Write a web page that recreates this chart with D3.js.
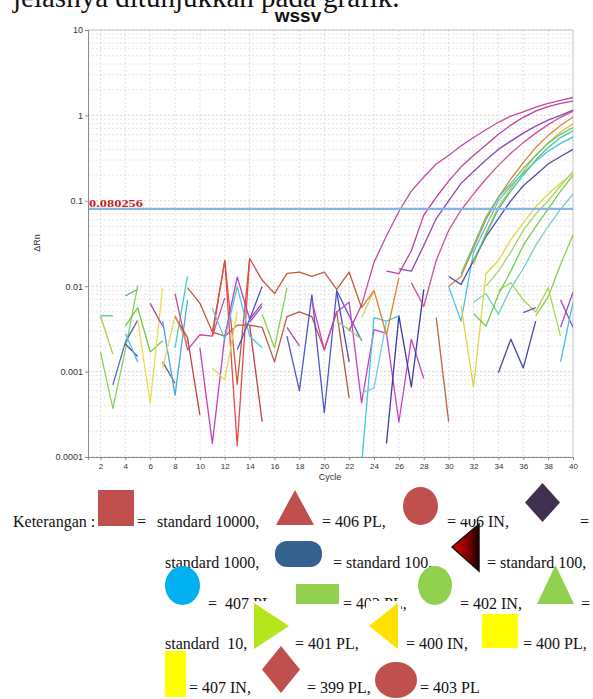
<!DOCTYPE html>
<html>
<head>
<meta charset="utf-8">
<script src="https://cdn.jsdelivr.net/npm/d3@7"></script>
<style>
  body { margin: 0; background: #fff; }
  svg { display: block; }
  .serif { font-family: "Liberation Serif", "Times New Roman", serif; white-space: pre; }
  .sans { font-family: "Liberation Sans", Arial, sans-serif; }
</style>
</head>
<body>
<svg id="chart" width="593" height="699"></svg>
<script>
// ---- data: [cycle, deltaRn] per run ----
const xTicks = [2, 4, 6, 8, 10, 12, 14, 16, 18, 20, 22, 24, 26, 28, 30, 32, 34, 36, 38, 40];
const yTicks = [0.0001, 0.001, 0.01, 0.1, 1, 10];
const yTickLabels = ["0.0001", "0.001", "0.01", "0.1", "1", "10"];
const threshold = 0.080256;

// amplification curves
const ampA = [[22,0.0030],[23,0.0060],[24,0.019],[25,0.039],[26,0.075],[27,0.13],[28,0.19],[29,0.27],[30,0.34],[31,0.44],[32,0.55],[33,0.68],[34,0.83],[35,0.98],[36,1.1],[37,1.25],[38,1.38],[39,1.5],[40,1.62]];
const ampB = [[25,0.015],[26,0.014],[27,0.026],[28,0.068],[29,0.11],[30,0.17],[31,0.25],[32,0.34],[33,0.45],[34,0.6],[35,0.77],[36,0.95],[37,1.12],[38,1.27],[39,1.38],[40,1.47]];
const ampC = [[26,0.016],[27,0.015],[28,0.03],[29,0.062],[30,0.1],[31,0.16],[32,0.22],[33,0.3],[34,0.4],[35,0.5],[36,0.62],[37,0.75],[38,0.88],[39,1.0],[40,1.15]];
const ampD = [[27,0.011],[28,0.0058],[29,0.02],[30,0.045],[31,0.078],[32,0.12],[33,0.18],[34,0.26],[35,0.36],[36,0.48],[37,0.62],[38,0.78],[39,0.95],[40,1.12]];
const ampE = [[30,0.010],[31,0.013],[32,0.028],[33,0.06],[34,0.11],[35,0.18],[36,0.28],[37,0.42],[38,0.58],[39,0.76],[40,0.96]];
const ampF = [[32,0.018],[33,0.042],[34,0.085],[35,0.14],[36,0.22],[37,0.34],[38,0.48],[39,0.64],[40,0.8]];
const ampG = [[31,0.014],[32,0.03],[33,0.065],[34,0.11],[35,0.16],[36,0.24],[37,0.34],[38,0.47],[39,0.6],[40,0.72]];
const ampH = [[30,0.0099],[31,0.0039],[32,0.025],[33,0.05],[34,0.1],[35,0.15],[36,0.21],[37,0.29],[38,0.38],[39,0.47],[40,0.56]];
const ampI = [[30,0.013],[31,0.0105],[32,0.02],[33,0.038],[34,0.062],[35,0.1],[36,0.15],[37,0.2],[38,0.27],[39,0.33],[40,0.4]];
const ampJ = [[32,0.02],[33,0.04],[34,0.08],[35,0.13],[36,0.2],[37,0.3],[38,0.42],[39,0.55],[40,0.66]];
const ampK = [[32,0.0065],[33,0.0082],[34,0.0047],[35,0.0095],[36,0.016],[37,0.03],[38,0.05],[39,0.08],[40,0.12]];
const ampL = [[31,0.0058],[32,0.00066],[33,0.014],[34,0.02],[35,0.035],[36,0.055],[37,0.085],[38,0.12],[39,0.16],[40,0.21]];
const ampM = [[32,0.0048],[33,0.0034],[34,0.008],[35,0.015],[36,0.03],[37,0.05],[38,0.08],[39,0.13],[40,0.2]];
const ampN = [[33,0.01],[34,0.015],[35,0.025],[36,0.045],[37,0.07],[38,0.1],[39,0.15],[40,0.22]];
const ampO = [[37,0.0045],[38,0.0075],[39,0.018],[40,0.04]];

// baseline noise pieces
const n01 = [[2,0.0045],[3,0.0045]];
const n02 = [[2,0.0045],[3,0.0016]];
const n03 = [[2,0.0017],[3,0.00037],[4,0.0018],[5,0.0102]];
const n04 = [[4,0.0077],[5,0.0092]];
const n05 = [[3,0.0007],[4,0.0022],[5,0.004]];
const n06 = [[4,0.0021],[5,0.0015]];
const n07 = [[4,0.0034],[5,0.0056],[6,0.0017],[7,0.0023]];
const n08 = [[4,0.0028],[5,0.0013]];
const n09 = [[5,0.004],[6,0.00043],[7,0.0096]];
const n10 = [[6,0.0063],[7,0.0034]];
const n11 = [[7,0.0013],[8,0.00073]];
const n12 = [[7,0.0039],[8,0.00053],[9,0.0069]];
const n13 = [[8,0.0019],[9,0.013]];
const n14 = [[7,0.0011],[8,0.0044]];
const n15 = [[8,0.0082],[9,0.0018],[10,0.0027],[11,0.0026],[12,0.0073]];
const n16 = [[9,0.0096],[10,0.0063],[11,0.0029],[12,0.0026],[13,0.0035],[14,0.0035],[15,0.0033],[16,0.0013],[17,0.0044],[18,0.005],[19,0.0044],[20,0.0018],[21,0.005],[22,0.00049]];
const n17 = [[8,0.0044],[9,0.0025],[10,0.00031]];
const n18 = [[11,0.0029],[12,0.020],[13,0.00071],[14,0.021],[15,0.0118],[16,0.0082],[17,0.0141],[18,0.0146],[19,0.013],[20,0.0146],[21,0.0092],[22,0.0146],[23,0.0056]];
const n19 = [[11,0.0026],[12,0.020],[13,0.000135],[14,0.021]];
const n20 = [[14,0.0035],[15,0.00026]];
const n21 = [[10,0.0019],[11,0.000144],[12,0.0026],[13,0.0128],[14,0.0041],[15,0.0063]];
const n22 = [[11,0.0011],[12,0.0008],[13,0.005]];
const n23 = [[11,0.0055],[12,0.0024],[13,0.0099],[14,0.0026],[15,0.0019]];
const n24 = [[13,0.0018],[14,0.0041],[15,0.0099]];
const n25 = [[14,0.0038],[15,0.0058]];
const n26 = [[15,0.0047],[16,0.0019],[17,0.0096]];
const n27 = [[17,0.0033],[18,0.002]];
const n28 = [[17,0.0026],[18,0.0006],[19,0.0079],[20,0.00033],[21,0.0089],[22,0.0045],[23,0.0023]];
const n29 = [[19,0.0068],[20,0.0018],[21,0.005],[22,0.0065],[23,0.00043],[24,0.0031],[25,0.0028],[26,0.000257],[27,0.0024],[28,0.00083]];
const n30 = [[21,0.0085],[22,0.0013]];
const n31 = [[21,0.0039],[22,0.0031],[23,0.0024]];
const n32 = [[25,0.000144],[26,0.0045],[27,0.00066],[28,0.0092]];
const n33 = [[23,0.00008],[24,0.0043],[25,0.0039],[26,0.0045]];
const n34 = [[23,0.00056],[24,0.00064],[25,0.0039]];
const n35 = [[23,0.0043],[24,0.0089]];
const n36 = [[23,0.0056],[24,0.0089],[25,0.0027],[26,0.0126]];
const n37 = [[8,0.0045],[9,0.0021]];
const n38 = [[29,0.0043],[30,0.00026]];
const n39 = [[34,0.0089],[35,0.011],[36,0.0069],[37,0.005],[38,0.0096],[39,0.0026]];
const n40 = [[34,0.00097],[35,0.0024],[36,0.0011],[37,0.0039]];
const n41 = [[36,0.0049],[37,0.0056]];
const n42 = [[39,0.0069],[40,0.0033]];
const n43 = [[39,0.0033],[40,0.0085]];
const n44 = [[39,0.0013],[40,0.0065]];

const noiseRuns = [n01,n02,n03,n04,n05,n06,n07,n08,n09,n10,n11,n12,n13,n14,n15,n16,n17,n18,n19,n20,n21,n22,n23,n24,n25,n26,n27,n28,n29,n30,n31,n32,n33,n34,n35,n36,n37,n38,n39,n40,n41,n42,n43,n44];
const noiseColors = ["#50c890","#a8d048","#8cd060","#50c080","#4a68d0","#505098","#70c850","#48c0e0","#e8dc50","#a048b0",
  "#606080","#48a8e0","#40d0c8","#e8d860","#c848b0","#b85a40","#b84848","#c85a3c","#e84848","#c04040",
  "#c040c0","#e0d850","#50c8e0","#4858d0","#9850d0","#88d050","#b048b0","#5058c0","#c840c8","#4848c0",
  "#9cd070","#3838a8","#40c8d8","#70d0e0","#c8d850","#e08030","#e89040","#c06040","#a8d850","#4848a0",
  "#8848b8","#9048c0","#a050c8","#40c0e0"];
const ampRuns = [ampA,ampB,ampC,ampD,ampE,ampF,ampG,ampH,ampI,ampJ,ampK,ampL,ampM,ampN,ampO];
const ampColors = ["#c84aa0","#c0409a","#8c48b4","#d0509a","#e08040","#f0b040","#5cc870","#50c0e0","#5050a8","#40c890","#70d0c0","#e0d440","#70cc50","#a0d860","#88d050"];

// ---- chart ----
const svg = d3.select("#chart");
const x = d3.scaleLinear().domain([1, 40]).range([88, 573]);
const y = d3.scaleLog().domain([0.0001, 10]).range([457, 30]);

// page text above the figure (its top half is off the page, as in the scan)
svg.append("text").attr("class", "serif").attr("x", 13).attr("y", 7)
  .attr("font-size", 29).attr("fill", "#111").text("jelasnya ditunjukkan pada grafik.");

// title
svg.append("text").attr("class", "sans").attr("x", 298).attr("y", 22)
  .attr("text-anchor", "middle").attr("font-size", 19).attr("font-weight", "bold")
  .attr("fill", "#111").text("wssv");

// grid
const grid = svg.append("g");
grid.selectAll("line.h").data(y.ticks()).join("line").attr("class", "h")
  .attr("x1", x(1)).attr("x2", x(40))
  .attr("y1", d => y(d)).attr("y2", d => y(d))
  .attr("stroke", d => Number.isInteger(Math.round(Math.log10(d) * 1000) / 1000) ? "#c8c8c8" : "#dedede")
  .attr("stroke-width", 0.8).attr("stroke-dasharray", "2,2");
grid.selectAll("line.v").data(xTicks.slice(0, -1)).join("line").attr("class", "v")
  .attr("x1", d => x(d)).attr("x2", d => x(d))
  .attr("y1", y(10)).attr("y2", y(0.0001))
  .attr("stroke", "#d8d8d8").attr("stroke-width", 0.8).attr("stroke-dasharray", "2,2");

// frame top/right
svg.append("path").attr("d", `M${x(1)},${y(10)}H${x(40)}V${y(0.0001)}`)
  .attr("fill", "none").attr("stroke", "#c4c4c4");

// clip
svg.append("clipPath").attr("id", "plotClip").append("rect")
  .attr("x", x(1)).attr("y", y(10)).attr("width", x(40) - x(1)).attr("height", y(0.0001) - y(10));

const line = d3.line().x(d => x(d[0])).y(d => y(d[1]));
const plot = svg.append("g").attr("clip-path", "url(#plotClip)");

plot.selectAll("path.noise").data(noiseRuns).join("path").attr("class", "noise")
  .attr("d", line).attr("fill", "none")
  .attr("stroke", (d, i) => noiseColors[i]).attr("stroke-width", 1.3)
  .attr("stroke-linejoin", "round");

plot.selectAll("path.amp").data(ampRuns).join("path").attr("class", "amp")
  .attr("d", line).attr("fill", "none")
  .attr("stroke", (d, i) => ampColors[i]).attr("stroke-width", 1.3)
  .attr("stroke-linejoin", "round");

// threshold
svg.append("line").attr("x1", x(1)).attr("x2", x(40))
  .attr("y1", y(threshold)).attr("y2", y(threshold))
  .attr("stroke", "#86b4ea").attr("stroke-width", 2.2);
svg.append("text").attr("class", "serif").attr("x", x(1) + 1).attr("y", y(threshold) - 2)
  .attr("font-size", 11).attr("font-weight", "bold").attr("fill", "#c81e1e")
  .attr("textLength", 54).attr("lengthAdjust", "spacingAndGlyphs")
  .text(String(threshold));

// axes
const yAxis = svg.append("g").attr("transform", `translate(${x(1)},0)`)
  .call(d3.axisLeft(y).tickValues(yTicks).tickFormat((d, i) => yTickLabels[i]).tickSize(3).tickPadding(2));
const xAxis = svg.append("g").attr("transform", `translate(0,${y(0.0001)})`)
  .call(d3.axisBottom(x).tickValues(xTicks).tickSize(3).tickPadding(3));
[yAxis, xAxis].forEach(g => {
  g.select(".domain").attr("stroke", "#8c8c8c");
  g.selectAll(".tick line").attr("stroke", "#8c8c8c");
  g.selectAll("text").attr("class", "sans").attr("fill", "#333");
});
yAxis.selectAll("text").attr("font-size", 9);
xAxis.selectAll("text").attr("font-size", 8);

svg.append("text").attr("class", "sans").attr("x", 330).attr("y", 480)
  .attr("text-anchor", "middle").attr("font-size", 9).attr("fill", "#333").text("Cycle");
svg.append("text").attr("class", "sans").attr("transform", "translate(40,243) rotate(-90)")
  .attr("text-anchor", "middle").attr("font-size", 9).attr("fill", "#333").text("\u0394Rn");

// ---- legend (Keterangan) ----
const legendTexts = [
  ["Keterangan :", 13, 527], ["=", 137, 527], ["standard 10000,", 157, 527], ["= 406 PL,", 322, 527], ["= 406 IN,", 447, 527], ["=", 580, 527],
  ["standard 1000,", 165, 568], ["= standard 100,", 333, 568], ["= standard 100,", 487, 568],
  ["=  407 PL,", 208, 609], ["= 402 PL,", 343, 609], ["= 402 IN,", 460, 609], ["=", 581, 609],
  ["standard  10,", 165, 649], ["= 401 PL,", 295, 649], ["= 400 IN,", 406, 649], ["= 400 PL,", 523, 649],
  ["= 407 IN,", 189, 693], ["= 399 PL,", 307, 693], ["= 403 PL", 420, 693]
];
const leg = svg.append("g");
leg.selectAll("text").data(legendTexts).join("text").attr("class", "serif")
  .attr("x", d => d[1]).attr("y", d => d[2]).attr("font-size", 16).attr("fill", "#111")
  .text(d => d[0]);

const defs = svg.append("defs");
const grad = defs.append("linearGradient").attr("id", "darkTri").attr("x1", "0").attr("x2", "1").attr("y1", "0").attr("y2", "0");
grad.append("stop").attr("offset", "0").attr("stop-color", "#e00000");
grad.append("stop").attr("offset", "0.55").attr("stop-color", "#8a0000");
grad.append("stop").attr("offset", "1").attr("stop-color", "#1a0000");

// white backgrounds of the pasted shapes, which hide bits of the text
const whites = [[442, 505, 34, 14], [250, 601, 42, 50], [366, 601, 35, 50]];
const sh = svg.append("g");
sh.selectAll("rect.w").data(whites).join("rect").attr("class", "w")
  .attr("x", d => d[0]).attr("y", d => d[1]).attr("width", d => d[2]).attr("height", d => d[3]).attr("fill", "#fff");

sh.append("rect").attr("x", 98).attr("y", 490).attr("width", 36).attr("height", 36).attr("fill", "#c0504d");
sh.append("path").attr("d", "M295,490L314,525L276,525Z").attr("fill", "#c0504d");
sh.append("ellipse").attr("cx", 420.5).attr("cy", 506).attr("rx", 17.5).attr("ry", 19).attr("fill", "#c0504d");
sh.append("path").attr("d", "M542.5,483L560,502.5L542.5,522L525,502.5Z").attr("fill", "#403151");
sh.append("rect").attr("x", 275).attr("y", 541).attr("width", 47).attr("height", 26).attr("rx", 12).attr("fill", "#35618f");
sh.append("path").attr("d", "M452,547L479,524L479,571Z").attr("fill", "url(#darkTri)").attr("stroke", "#111").attr("stroke-width", 1.5);
sh.append("ellipse").attr("cx", 182.5).attr("cy", 585.5).attr("rx", 17.5).attr("ry", 19.5).attr("fill", "#00b0f0");
sh.append("rect").attr("x", 296).attr("y", 584).attr("width", 43).attr("height", 20).attr("fill", "#92d050");
sh.append("ellipse").attr("cx", 435).attr("cy", 585.5).attr("rx", 17).attr("ry", 19.5).attr("fill", "#92d050");
sh.append("path").attr("d", "M555.5,565L574,604L537,604Z").attr("fill", "#92d050");
sh.append("path").attr("d", "M254,603L289,626L254,649Z").attr("fill", "#b5e61d");
sh.append("path").attr("d", "M369,626L398,603L398,649Z").attr("fill", "#ffe000");
sh.append("rect").attr("x", 482).attr("y", 614).attr("width", 36).attr("height", 34).attr("fill", "#ffff00");
sh.append("rect").attr("x", 165).attr("y", 651).attr("width", 21).attr("height", 46).attr("fill", "#ffff00");
sh.append("path").attr("d", "M281,646L300,669.5L281,693L262,669.5Z").attr("fill", "#c0504d");
sh.append("ellipse").attr("cx", 396).attr("cy", 680).attr("rx", 21).attr("ry", 18).attr("fill", "#c0504d");
</script>
</body>
</html>
